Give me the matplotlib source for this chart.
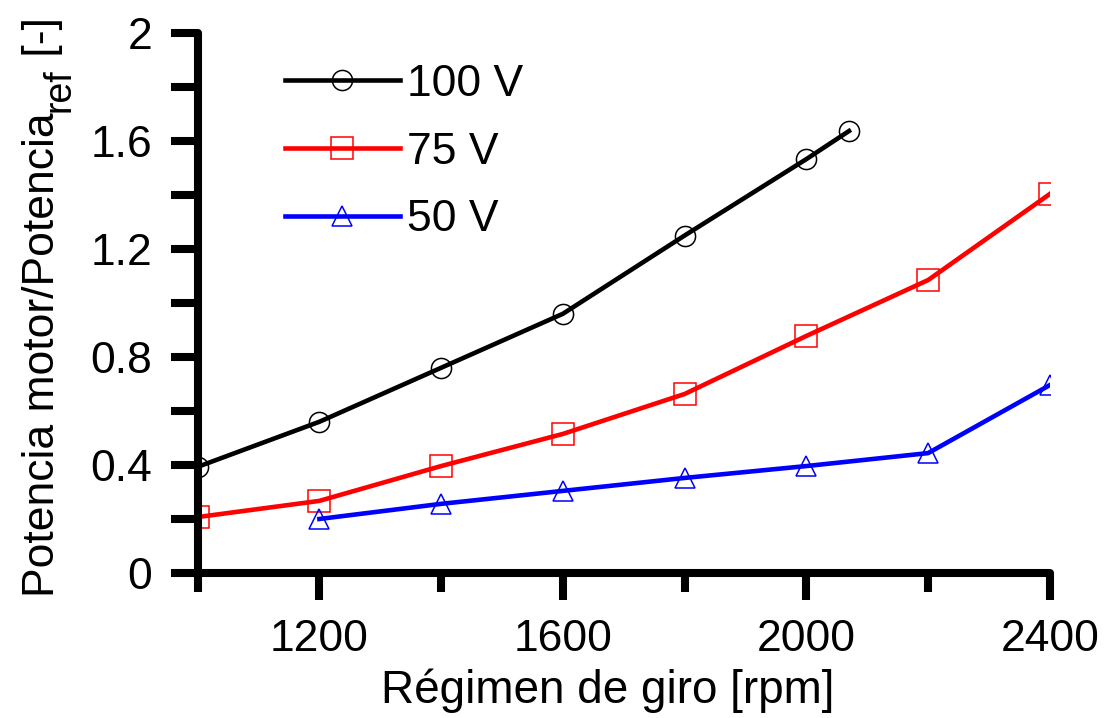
import numpy as np
import matplotlib
matplotlib.use("Agg")
import matplotlib.pyplot as plt
from matplotlib.ticker import MultipleLocator
from matplotlib.transforms import IdentityTransform

plt.rcParams['font.family'] = ['Liberation Sans', 'DejaVu Sans']

# data
rpm_100 = [1000, 1200, 1400, 1600, 1800, 2000, 2070]
pot_100 = [0.393, 0.56, 0.76, 0.96, 1.25, 1.533, 1.637]

rpm_75 = [1000, 1200, 1400, 1600, 1800, 2000, 2200, 2400]
pot_75 = [0.207, 0.267, 0.396, 0.515, 0.663, 0.878, 1.085, 1.404]

rpm_50 = [1200, 1400, 1600, 1800, 2000, 2200, 2400]
pot_50 = [0.20, 0.256, 0.304, 0.352, 0.396, 0.444, 0.696]

labels = ["100 V", "75 V", "50 V"]
xticks = [1200, 1600, 2000, 2400]
yticks = [0, 0.4, 0.8, 1.2, 1.6, 2]
yticklabels = ["0", "0.4", "0.8", "1.2", "1.6", "2"]

W, H = 1104, 718
fig = plt.figure(figsize=(W / 100, H / 100), dpi=100)
ax = fig.add_axes([0.179, 0.202, 0.772, 0.752])

ax.plot(rpm_100, pot_100, color="black", lw=3.3, marker="o", ms=14.5,
        mfc="none", mec="black", mew=1.1, label=labels[0])
ax.plot(rpm_75, pot_75, color="red", lw=3.3, marker="s", ms=15.5,
        mfc="none", mec="red", mew=1.1, label=labels[1])
ax.plot(rpm_50, pot_50, color="blue", lw=3.3, marker="^", ms=15,
        mfc="none", mec="blue", mew=1.1, label=labels[2])

ax.set_xlim(1000, 2400)
ax.set_ylim(0, 2)
ax.xaxis.set_minor_locator(MultipleLocator(200))
ax.set_xticks(xticks)
ax.yaxis.set_minor_locator(MultipleLocator(0.2))
ax.set_yticks(yticks)
ax.set_yticklabels(yticklabels)

for s in ["top", "right"]:
    ax.spines[s].set_visible(False)
for s in ["left", "bottom"]:
    ax.spines[s].set_linewidth(5.8)
    ax.spines[s].set_capstyle("round")

ax.tick_params(axis="x", which="major", direction="out", length=19.5, width=5.8,
               labelsize=32, pad=14)
ax.tick_params(axis="x", which="minor", direction="out", length=13.5, width=5.8)
ax.tick_params(axis="y", which="both", direction="out", length=19.5, width=5.8,
               labelsize=32, pad=13)

# x label, slightly left of axes centre like the original
fig.text(608, H - 703, "Régimen de giro [rpm]", fontsize=33, ha="center",
         va="baseline", transform=IdentityTransform())

# y label built from pieces so the subscript keeps its size
base_x = 54
y0 = H - 597
t1 = fig.text(base_x, y0, "Potencia motor/Potencia", fontsize=32, rotation=90,
              rotation_mode="anchor", ha="left", va="baseline",
              transform=IdentityTransform())
fig.canvas.draw()
r = fig.canvas.get_renderer()
y1 = t1.get_window_extent(r).y1
t2 = fig.text(base_x + 16, y1, "ref", fontsize=27, rotation=90,
              rotation_mode="anchor", ha="left", va="baseline",
              transform=IdentityTransform())
y2 = t2.get_window_extent(r).y1
fig.text(base_x, y2, " [-]", fontsize=32, rotation=90,
         rotation_mode="anchor", ha="left", va="baseline",
         transform=IdentityTransform())

ax.legend(loc="upper left", bbox_to_anchor=(0.056, 1.017), frameon=False,
          fontsize=32, handlelength=2.57, handletextpad=0.17, labelspacing=0.6)

fig.savefig("out.png", dpi=100)
